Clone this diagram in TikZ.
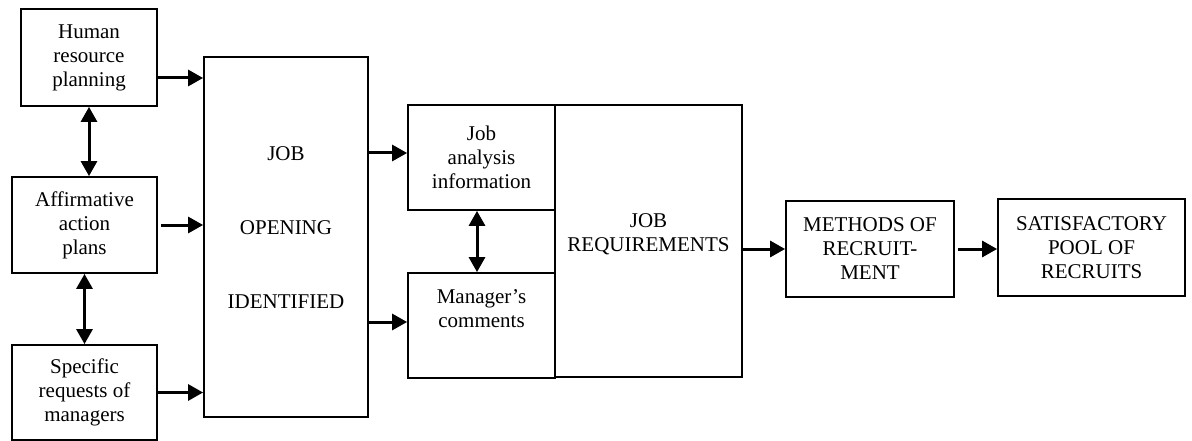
\documentclass[tikz,border=0pt]{standalone}
\usepackage{fontspec}
\setmainfont{Liberation Serif}
\usetikzlibrary{arrows.meta,calc}
\tikzset{
  box/.style={draw, line width=1.8pt, rectangle, inner sep=0pt, align=center,
    font=\fontsize{21}{24}\selectfont},
  tip/.tip={Triangle[length=15pt,width=16pt]},
  arr/.style={line width=3pt, -tip},
  darr/.style={line width=3pt, tip-tip},
  txt/.style={inner sep=0pt, align=center, font=\fontsize{21}{24}\selectfont}
}
\begin{document}
\begin{tikzpicture}[x=1pt,y=-1pt]
\useasboundingbox (0,0) rectangle (1192,441);

% left column of inputs
\node[box, minimum width=136pt, minimum height=97pt] (hrp) at (89,57.5) {Human\\resource\\planning};
\node[box, minimum width=145pt, minimum height=96pt] (aff) at (84.5,225) {Affirmative\\action\\plans};
\node[box, minimum width=145pt, minimum height=95pt] (spec) at (84.5,392.5) {Specific\\requests of\\managers};

% central opening box
\node[box, minimum width=164pt, minimum height=360pt] (jo) at (286,237) {};
\node[txt] (jotext) at (286,228) {JOB\\[50pt]OPENING\\[50pt]IDENTIFIED};

% analysis and comments feeding the requirements
\node[box, minimum width=147pt, minimum height=105pt] (ja) at (481.5,157.5) {Job\\analysis\\information};
\node[box, minimum width=147pt, minimum height=105pt] (mc) at (481.5,325.5) {};
\node[txt] (mctext) at (481.5,309) {Manager’s\\comments};
\node[box, minimum width=187pt, minimum height=272pt] (jr) at (648.5,241) {};
\node[txt] (jrtext) at (648.5,234) {JOB\\REQUIREMENTS};

% outputs
\node[box, minimum width=168pt, minimum height=96pt] (mr) at (870,249) {METHODS OF\\RECRUIT-\\MENT};
\node[box, minimum width=187pt, minimum height=97pt] (sp) at (1091.5,247.5) {SATISFACTORY\\POOL OF\\RECRUITS};

% free ends of connectors that do not start on a box centre line
\coordinate (hrpout) at ($(hrp.east)+(0,20.5)$);
\coordinate (affout) at ($(aff.east)+(3,0)$);
\coordinate (jain)   at ($(ja.west)+(0,-4.5)$);
\coordinate (mcin)   at ($(mc.west)+(0,-3.5)$);
\coordinate (mcout)  at ($(mc.west)+(-38,-3.5)$);
\coordinate (jalow)  at ($(ja.south)+(-4.5,0)$);
\coordinate (mrout)  at ($(mr.east)+(3,0)$);

% connectors
\draw[arr] (hrpout) -- (hrpout -| jo.west);
\draw[arr] (affout) -- (aff.east -| jo.west);
\draw[arr] (spec.east) -- (spec.east -| jo.west);
\draw[darr] (hrp.south) -- (hrp.south |- aff.north);
\draw[darr] (aff.south) -- (aff.south |- spec.north);

\draw[arr] (jain -| jo.east) -- (jain);
\draw[arr] (mcout) -- (mcin);
\draw[darr] (jalow) -- (jalow |- mc.north);

\draw[arr] (mr.west -| jr.east) -- (mr.west);
\draw[arr] (mrout) -- (mrout -| sp.west);
\end{tikzpicture}
\end{document}
